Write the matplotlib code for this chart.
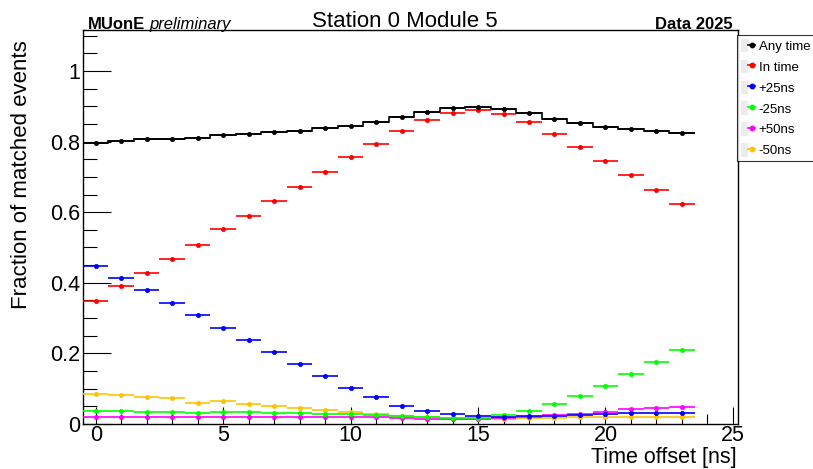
import matplotlib
matplotlib.use("Agg")
import matplotlib.pyplot as plt
import numpy as np
from matplotlib.lines import Line2D
from matplotlib.patches import Patch
from matplotlib.legend_handler import HandlerTuple
from matplotlib.ticker import MultipleLocator, FuncFormatter

plt.rcParams['font.family'] = ['Liberation Sans', 'DejaVu Sans']

# time offset bins (ns), one value per bin
offset = np.arange(24)

any_time = [0.795, 0.801, 0.806, 0.808, 0.811, 0.819, 0.821, 0.826, 0.831, 0.839,
            0.845, 0.856, 0.869, 0.885, 0.894, 0.898, 0.892, 0.880, 0.865, 0.853,
            0.842, 0.837, 0.830, 0.824]
in_time = [0.348, 0.390, 0.429, 0.468, 0.507, 0.552, 0.590, 0.631, 0.671, 0.715,
           0.755, 0.793, 0.831, 0.861, 0.880, 0.888, 0.878, 0.856, 0.822, 0.786,
           0.746, 0.705, 0.664, 0.624]
plus25 = [0.447, 0.413, 0.379, 0.344, 0.308, 0.273, 0.238, 0.204, 0.169, 0.136,
          0.103, 0.076, 0.052, 0.037, 0.027, 0.022, 0.021, 0.023, 0.024, 0.026,
          0.028, 0.030, 0.030, 0.030]
minus25 = [0.037, 0.038, 0.035, 0.035, 0.031, 0.034, 0.033, 0.031, 0.030, 0.029,
           0.028, 0.025, 0.022, 0.020, 0.018, 0.018, 0.025, 0.037, 0.057, 0.079,
           0.107, 0.142, 0.175, 0.209]
plus50 = [0.020, 0.021, 0.021, 0.021, 0.019, 0.020, 0.020, 0.020, 0.021, 0.020,
          0.020, 0.019, 0.016, 0.015, 0.013, 0.013, 0.018, 0.021, 0.025, 0.029,
          0.035, 0.042, 0.044, 0.049]
minus50 = [0.084, 0.082, 0.076, 0.073, 0.060, 0.064, 0.057, 0.052, 0.046, 0.040,
           0.033, 0.029, 0.023, 0.020, 0.015, 0.014, 0.015, 0.017, 0.018, 0.019,
           0.020, 0.020, 0.020, 0.020]

series = [
    ("Any time", any_time, "black"),
    ("In time", in_time, "#ff0000"),
    ("+25ns", plus25, "#0000ff"),
    ("-25ns", minus25, "#00ff00"),
    ("+50ns", plus50, "#ff00ff"),
    ("-50ns", minus50, "#ffc200"),
]

fig = plt.figure(figsize=(8.13, 4.69), dpi=100)
ax = fig.add_axes([83/813, 1 - 424/469, (738 - 83)/813, (424 - 30)/469])

edges = np.append(offset - 0.5, offset[-1] + 0.5)
ax.stairs(any_time, edges, baseline=None, color="black", lw=1.2, zorder=2)

for name, vals, col in series[::-1]:
    ax.errorbar(offset, vals, xerr=0.5, fmt='o', color=col, ms=3.2, mew=0.4,
                lw=1.2, capsize=0, zorder=3)

ax.set_xlim(-0.5, 25.2)
ax.set_ylim(0, 1.116)
ax.xaxis.set_major_locator(MultipleLocator(5))
ax.xaxis.set_minor_locator(MultipleLocator(1))
ax.yaxis.set_major_locator(MultipleLocator(0.2))
ax.yaxis.set_minor_locator(MultipleLocator(0.05))
ax.yaxis.set_major_formatter(FuncFormatter(lambda v, p: "%g" % round(v, 3)))
ax.tick_params(which='both', direction='in', top=False, right=False,
               labelsize=15.5, width=0.8)
ax.xaxis.set_tick_params(which='major', length=12, pad=1)
ax.xaxis.set_tick_params(which='minor', length=7)
ax.yaxis.set_tick_params(which='major', length=20, pad=2)
ax.yaxis.set_tick_params(which='minor', length=10)
for s in ax.spines.values():
    s.set_linewidth(1.0)

fig.text(22/813, 1 - 40/469, "Fraction of matched events", rotation=90,
         ha='center', va='top', fontsize=16)
fig.text(737/813, 1/469, "Time offset [ns]", ha='right', va='bottom',
         fontsize=15.5)
fig.text(405/813, 1 - 27/469, "Station 0 Module 5", ha='center',
         va='baseline', fontsize=16)
t1 = fig.text(88/813, 1 - 29/469, "MUonE", ha='left', va='baseline',
              fontsize=12, fontweight='bold')
fig.text(733/813, 1 - 29/469, "Data 2025", ha='right', va='baseline',
         fontsize=12, fontweight='bold')
fig.canvas.draw()
bb = t1.get_window_extent()
fig.text((bb.x1 + 4) / 813, 1 - 29/469, "preliminary", ha='left',
         va='baseline', fontsize=12, style='italic')

handles = []
for name, vals, col in series:
    box = Patch(facecolor='#ececec', edgecolor='none')
    ln = Line2D([], [], color=col, marker='o', ms=3.2, lw=1.2)
    handles.append((box, ln))
leg = fig.legend(handles, [s[0] for s in series],
                 handler_map={tuple: HandlerTuple(ndivide=None, pad=0)},
                 loc='upper left', bbox_to_anchor=(737/813, 1 - 35/469),
                 fontsize=9.5, frameon=True, fancybox=False,
                 handlelength=1.1, handleheight=1.2, handletextpad=0.25,
                 labelspacing=0.5, borderpad=0.3, borderaxespad=0)
leg.get_frame().set_edgecolor('black')
leg.get_frame().set_linewidth(0.8)

fig.savefig("out.png", dpi=100)
